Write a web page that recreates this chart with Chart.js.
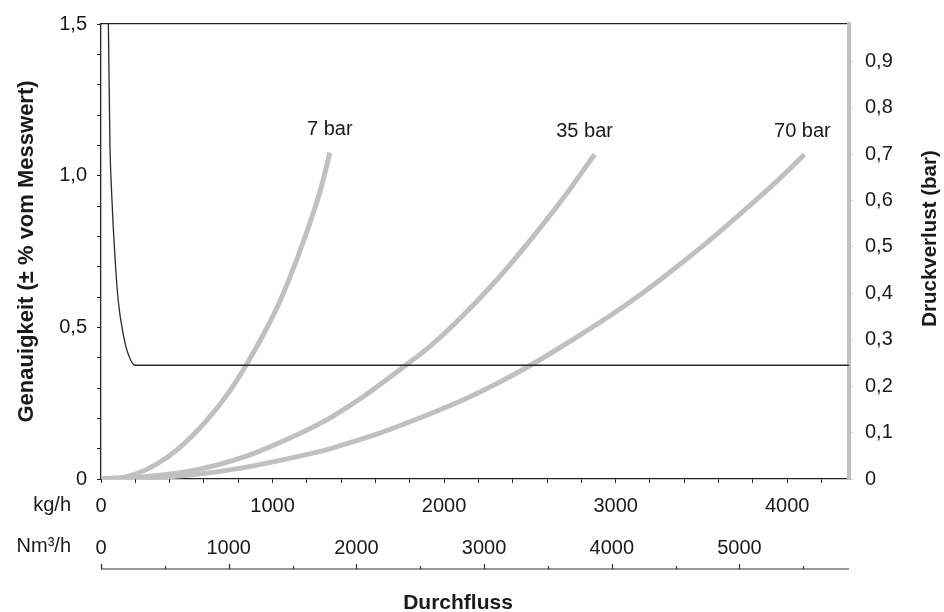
<!DOCTYPE html>
<html>
<head>
<meta charset="utf-8">
<script src="https://cdn.jsdelivr.net/npm/chart.js@4/dist/chart.umd.min.js"></script>
<style>
  html, body { margin: 0; padding: 0; background: #fff; }
  canvas { display: block; }
</style>
</head>
<body>
<canvas id="chart" width="944" height="612"></canvas>
<script>
// Genauigkeit (left axis)
const accFlow  = [43, 52, 62, 82, 101, 130, 159, 198, 4360];
const accValue = [1.5, 1.108, 0.944, 0.727, 0.585, 0.476, 0.411, 0.375, 0.375];

// Druckverlust (right axis) per pressure
const flow7  = [0, 150, 314, 450, 606, 742, 849, 1014, 1091, 1207, 1285, 1334];
const drop7  = [0, 0.005, 0.030, 0.065, 0.122, 0.185, 0.247, 0.360, 0.425, 0.540, 0.630, 0.703];
const flow35 = [0, 256, 547, 839, 1130, 1334, 1421, 1528, 1780, 1916, 2110, 2305, 2499, 2693, 2877];
const drop35 = [0, 0.005, 0.019, 0.048, 0.093, 0.131, 0.151, 0.177, 0.246, 0.285, 0.352, 0.428, 0.513, 0.604, 0.699];
const flow70 = [0, 256, 547, 839, 1130, 1334, 1421, 1625, 1916, 2110, 2305, 2499, 2693, 2770, 2965, 3159, 3353, 3547, 3741, 3935, 4100];
const drop70 = [0, 0.002, 0.0095, 0.025, 0.047, 0.065, 0.075, 0.099, 0.140, 0.170, 0.205, 0.244, 0.287, 0.305, 0.351, 0.401, 0.456, 0.514, 0.576, 0.640, 0.699];
const pressureLabels = ['7 bar', '35 bar', '70 bar'];

// tick values
const kgTicks  = [0, 200, 400, 600, 800, 1000, 1200, 1400, 1600, 1800, 2000, 2200, 2400,
                  2600, 2800, 3000, 3200, 3400, 3600, 3800, 4000, 4200];
const nm3Ticks = [0, 500, 1000, 1500, 2000, 2500, 3000, 3500, 4000, 4500, 5000, 5500];
const accTicks = [0, 0.1, 0.2, 0.3, 0.4, 0.5, 0.6, 0.7, 0.8, 0.9, 1.0, 1.1, 1.2, 1.3, 1.4, 1.5];
const dropTicks = [0, 0.1, 0.2, 0.3, 0.4, 0.5, 0.6, 0.7, 0.8, 0.9];

// axis ranges
const kgMax = 4360;          // kg/h at right edge
const nm3PerKg = 1.3435;     // Nm3/h per kg/h (second flow scale)
const accMax = 1.5;
const dropMax = 0.98;

const FONT = '"Liberation Sans", Arial, Helvetica, sans-serif';
const GREY = '#c0c0c0';
const INK = '#1a1a1a';

Chart.defaults.font.family = FONT;
Chart.defaults.font.size = 20;
Chart.defaults.color = INK;

const pts = (xs, ys) => xs.map((x, i) => ({x: x, y: ys[i]}));
const useTicks = list => (s => { s.ticks = list.map(v => ({value: v})); });
const thousands = v => (Math.round(v) % 1000 === 0 ? String(Math.round(v)) : '');
const comma1 = v => {
  const t = Math.round(v * 10);
  return t === 0 ? '0' : (t / 10).toFixed(1).replace('.', ',');
};

const data = {
  datasets: [
    {
      label: 'Genauigkeit',
      data: pts(accFlow, accValue),
      yAxisID: 'y',
      borderColor: '#2a2a2a',
      borderWidth: 1.3,
    },
    {
      label: pressureLabels[0],
      data: pts(flow7, drop7),
      yAxisID: 'y2',
      borderColor: GREY,
      borderWidth: 5,
    },
    {
      label: pressureLabels[1],
      data: pts(flow35, drop35),
      yAxisID: 'y2',
      borderColor: GREY,
      borderWidth: 5,
    },
    {
      label: pressureLabels[2],
      data: pts(flow70, drop70),
      yAxisID: 'y2',
      borderColor: GREY,
      borderWidth: 5,
    }
  ]
};

// Nm3/h axis line, unit names, titles and curve labels
const extras = {
  id: 'extras',
  afterDraw(chart) {
    const {ctx, scales: {x, x2, y2}} = chart;
    ctx.save();
    const ly = x2.top + 50;
    ctx.strokeStyle = '#333';
    ctx.lineWidth = 1.2;
    ctx.beginPath();
    ctx.moveTo(x2.left, ly);
    ctx.lineTo(x2.right, ly);
    x2.ticks.forEach(t => {
      const px = Math.round(x2.getPixelForValue(t.value)) + 0.5;
      const len = t.value % 1000 === 0 ? 5 : 3;
      ctx.moveTo(px, ly);
      ctx.lineTo(px, ly - len);
    });
    ctx.stroke();

    ctx.fillStyle = INK;
    ctx.font = '20px ' + FONT;
    ctx.textAlign = 'right';
    ctx.textBaseline = 'middle';
    ctx.fillText('kg/h', x.left - 30, x.top + 26);
    ctx.fillText('Nm³/h', x.left - 30, x2.top + 27);

    // curve labels above the end of each pressure curve
    const labelDx = [0, -10, -2];
    ctx.textAlign = 'center';
    chart.data.datasets.filter(ds => ds.yAxisID === 'y2').forEach((ds, k) => {
      const meta = chart.getDatasetMeta(chart.data.datasets.indexOf(ds));
      const last = meta.data[meta.data.length - 1];
      ctx.fillText(ds.label, last.x + labelDx[k], last.y - 23);
    });

    // axis titles
    ctx.font = 'bold 21px ' + FONT;
    ctx.fillText('Durchfluss', (x2.left + x2.right) / 2 - 17, x2.bottom - 9);
    ctx.translate(y2.right - 14, (y2.top + y2.bottom) / 2 - 13);
    ctx.rotate(-Math.PI / 2);
    ctx.font = 'bold 20.5px ' + FONT;
    ctx.fillText('Druckverlust (bar)', 0, 0);
    ctx.restore();
  }
};

const config = {
  type: 'scatter',
  data: data,
  plugins: [extras],
  options: {
    responsive: false,
    animation: false,
    showLine: true,
    layout: { padding: 0 },
    elements: {
      point: { radius: 0, hoverRadius: 0 },
      line: { cubicInterpolationMode: 'monotone', fill: false }
    },
    plugins: {
      legend: { display: false },
      tooltip: { enabled: false }
    },
    scales: {
      x: {
        type: 'linear',
        position: 'bottom',
        weight: 0,
        min: 0,
        max: kgMax,
        afterFit: s => { s.height = 40; },
        afterBuildTicks: useTicks(kgTicks),
        border: { color: '#222', width: 1.3 },
        grid: { drawOnChartArea: false, tickLength: 4, tickColor: '#222' },
        ticks: { autoSkip: false, maxRotation: 0, padding: 11, callback: thousands }
      },
      x2: {
        type: 'linear',
        position: 'bottom',
        weight: 1,
        min: 0,
        max: kgMax * nm3PerKg,
        afterFit: s => { s.height = 93; },
        afterBuildTicks: useTicks(nm3Ticks),
        border: { display: false },
        grid: { display: false, drawTicks: false },
        ticks: { autoSkip: false, maxRotation: 0, padding: 17, callback: thousands }
      },
      xTop: {
        type: 'linear',
        position: 'top',
        min: 0,
        max: 1,
        afterFit: s => { s.height = 19; },
        border: { color: '#222', width: 1.3 },
        grid: { drawOnChartArea: false, drawTicks: false },
        ticks: { display: false }
      },
      y: {
        type: 'linear',
        position: 'left',
        min: 0,
        max: accMax,
        afterFit: s => { s.width = 101; },
        afterBuildTicks: useTicks(accTicks),
        border: { color: '#222', width: 1.3 },
        grid: { drawOnChartArea: false, tickLength: 4, tickColor: '#222' },
        ticks: {
          autoSkip: false, padding: 10,
          callback: v => (Math.round(v * 10) % 5 === 0 ? comma1(v) : '')
        },
        title: {
          display: true,
          text: 'Genauigkeit (± % vom Messwert)',
          font: { weight: 'bold', size: 22 },
          padding: { top: 14, bottom: 0 }
        }
      },
      y2: {
        type: 'linear',
        position: 'right',
        min: 0,
        max: dropMax,
        afterFit: s => { s.width = 95; },
        afterBuildTicks: useTicks(dropTicks),
        border: { color: GREY, width: 4 },
        grid: { drawOnChartArea: false, tickLength: 4, tickColor: '#cfcfcf' },
        ticks: { autoSkip: false, padding: 12, callback: comma1 }
      }
    }
  }
};

new Chart(document.getElementById('chart'), config);
</script>
</body>
</html>
